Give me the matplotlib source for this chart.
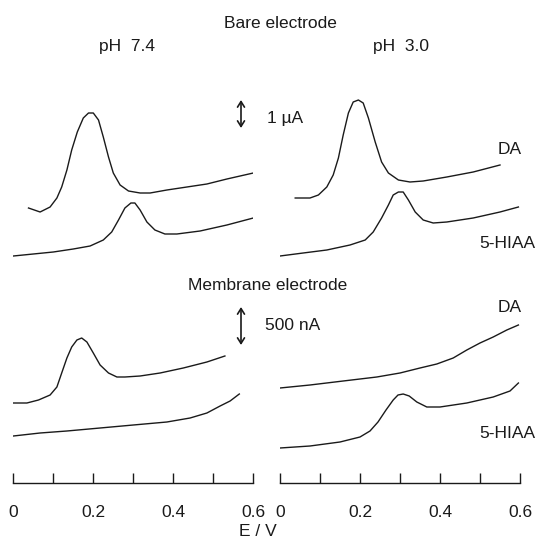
import matplotlib
matplotlib.use("Agg")
import matplotlib.pyplot as plt

plt.rcParams['font.family'] = ['Liberation Sans', 'DejaVu Sans']

# Differential pulse voltammograms, potential in V, current in arbitrary
# (offset) units; traces are stacked by their offsets.

# bare electrode, pH 7.4
e_bare74_da = [0.038, 0.067, 0.092, 0.109, 0.121, 0.134, 0.146, 0.160, 0.175, 0.188,
               0.200, 0.213, 0.225, 0.238, 0.250, 0.267, 0.288, 0.317, 0.342, 0.384,
               0.434, 0.484, 0.534, 0.600]
i_bare74_da = [275, 271, 276, 285, 296, 313, 333, 351, 365, 370,
               370, 363, 346, 326, 310, 298, 292, 290, 290, 293,
               296, 299, 304, 310]
e_bare74_hiaa = [0.0, 0.05, 0.10, 0.15, 0.192, 0.225, 0.246, 0.263, 0.279, 0.294,
                 0.304, 0.317, 0.334, 0.354, 0.379, 0.409, 0.467, 0.534, 0.600]
i_bare74_hiaa = [227, 229, 231, 234, 237, 243, 251, 263, 275, 280,
                 280, 273, 261, 253, 249, 249, 252, 258, 265]

# bare electrode, pH 3.0
e_bare30_da = [0.038, 0.075, 0.096, 0.117, 0.133, 0.146, 0.158, 0.171, 0.183, 0.196,
               0.208, 0.221, 0.238, 0.254, 0.271, 0.296, 0.325, 0.358, 0.417, 0.483,
               0.550]
i_bare30_da = [285, 285, 288, 296, 308, 325, 348, 370, 381, 383,
               380, 365, 341, 321, 310, 303, 301, 302, 306, 311,
               318]
e_bare30_hiaa = [0.0, 0.058, 0.117, 0.175, 0.213, 0.233, 0.254, 0.271, 0.283, 0.296,
                 0.308, 0.321, 0.338, 0.358, 0.383, 0.417, 0.483, 0.550, 0.596]
i_bare30_hiaa = [227, 230, 233, 238, 243, 251, 265, 278, 288, 291,
                 291, 283, 271, 263, 260, 261, 265, 271, 276]

# membrane electrode, pH 7.4
e_mem74_da = [0.0, 0.034, 0.063, 0.092, 0.109, 0.121, 0.134, 0.146, 0.159, 0.171,
              0.184, 0.200, 0.217, 0.238, 0.259, 0.279, 0.317, 0.367, 0.425, 0.484,
              0.529]
i_mem74_da = [80, 80, 83, 88, 96, 110, 125, 136, 143, 145,
              141, 130, 118, 110, 106, 106, 107, 110, 115, 121,
              127]
e_mem74_hiaa = [0.0, 0.067, 0.134, 0.217, 0.300, 0.384, 0.442, 0.484, 0.517, 0.542, 0.565]
i_mem74_hiaa = [47, 50, 52, 55, 58, 61, 65, 70, 77, 82, 89]

# membrane electrode, pH 3.0
e_mem30_da = [0.0, 0.075, 0.158, 0.242, 0.300, 0.350, 0.392, 0.433, 0.467, 0.500,
              0.533, 0.567, 0.596]
i_mem30_da = [95, 98, 102, 106, 110, 115, 119, 125, 133, 140,
              146, 153, 158]
e_mem30_hiaa = [0.0, 0.075, 0.150, 0.200, 0.225, 0.245, 0.265, 0.283, 0.295, 0.308,
                0.323, 0.342, 0.367, 0.400, 0.467, 0.533, 0.575, 0.596]
i_mem30_hiaa = [35, 37, 41, 46, 52, 61, 73, 83, 88, 89,
                87, 81, 76, 76, 80, 86, 92, 100]

ticks_major = [0, 0.2, 0.4, 0.6]
ticks_minor = [0.1, 0.3, 0.5]
tick_labels = ['0', '0.2', '0.4', '0.6']

W, H = 536, 541
fig = plt.figure(figsize=(W / 100, H / 100), dpi=100)


def px(x, y):
    return x / W, 1 - y / H


fs = 12.5
col = '#1a1a1a'

ax_l = fig.add_axes([13.3 / W, 58 / H, 240 / W, 483 / H])
ax_r = fig.add_axes([280 / W, 58 / H, 240 / W, 483 / H])

ax_l.plot(e_bare74_da, i_bare74_da, color=col, lw=1)
ax_l.plot(e_bare74_hiaa, i_bare74_hiaa, color=col, lw=1)
ax_l.plot(e_mem74_da, i_mem74_da, color=col, lw=1)
ax_l.plot(e_mem74_hiaa, i_mem74_hiaa, color=col, lw=1)

ax_r.plot(e_bare30_da, i_bare30_da, color=col, lw=1)
ax_r.plot(e_bare30_hiaa, i_bare30_hiaa, color=col, lw=1)
ax_r.plot(e_mem30_da, i_mem30_da, color=col, lw=1)
ax_r.plot(e_mem30_hiaa, i_mem30_hiaa, color=col, lw=1)

for ax in (ax_l, ax_r):
    ax.set_xlim(0, 0.6)
    ax.set_ylim(0, 483)
    ax.patch.set_visible(False)
    for s in ('top', 'left', 'right'):
        ax.spines[s].set_visible(False)
    ax.spines['bottom'].set_color(col)
    ax.spines['bottom'].set_linewidth(1)
    ax.set_yticks([])
    ax.set_xticks(ticks_major)
    ax.set_xticklabels(tick_labels, fontsize=fs, color=col)
    ax.set_xticks(ticks_minor, minor=True)
    ax.tick_params(axis='x', which='both', direction='in', length=7.2,
                   width=1, color=col, pad=16)

# headings and labels
fig.text(*px(280, 24), 'Bare electrode', fontsize=fs, ha='center', va='center', color=col)
fig.text(*px(127, 46), 'pH  7.4', fontsize=fs, ha='center', va='center', color=col)
fig.text(*px(401, 46), 'pH  3.0', fontsize=fs, ha='center', va='center', color=col)
fig.text(*px(268, 286), 'Membrane electrode', fontsize=fs, ha='center', va='center', color=col)
fig.text(*px(285, 118), '1 µA', fontsize=fs, ha='center', va='center', color=col)
fig.text(*px(293, 326), '500 nA', fontsize=fs, ha='center', va='center', color=col)
fig.text(*px(510, 150), 'DA', fontsize=fs, ha='center', va='center', color=col)
fig.text(*px(535, 244), '5-HIAA', fontsize=fs, ha='right', va='center', color=col)
fig.text(*px(510, 307), 'DA', fontsize=fs, ha='center', va='center', color=col)
fig.text(*px(535, 433), '5-HIAA', fontsize=fs, ha='right', va='center', color=col)
fig.text(*px(258, 532), 'E / V', fontsize=fs, ha='center', va='center', color=col)

# current scale bars
for y0, y1 in [(100, 128), (307, 345)]:
    fig.add_artist(matplotlib.patches.FancyArrowPatch(
        px(241, y0), px(241, y1), transform=fig.transFigure,
        arrowstyle='<->,head_length=4,head_width=2.5', color=col, lw=1.2,
        shrinkA=0, shrinkB=0))

fig.savefig('out.png', dpi=100)
